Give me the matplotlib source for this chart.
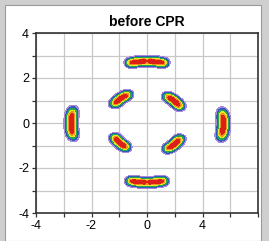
import numpy as np
import matplotlib
matplotlib.use("Agg")
import matplotlib.pyplot as plt
from matplotlib.patches import Rectangle

plt.rcParams['font.family'] = ['Liberation Sans', 'DejaVu Sans']

# cluster centres (data units)
clu_x = [0.0, 0.0, -2.73, 2.75, -0.95, 0.98, -0.98, 0.98]
clu_y = [2.74, -2.64, -0.02, -0.08, 1.08, 0.98, -0.88, -0.95]
# half length along the arc, half width across, split of the two lobes
clu_len = [0.84, 0.82, 0.82, 0.80, 0.54, 0.54, 0.52, 0.54]
clu_wid = [0.27, 0.27, 0.27, 0.27, 0.27, 0.27, 0.27, 0.27]
clu_split = [0.32, 0.32, 0.0, 0.0, 0.0, 0.0, 0.0, 0.0]

xticks = [-4, -2, 0, 2]
xlabels = ['-4', '-2', '0', '4']
yticks = [-4, -2, 0, 2, 4]
ylabels = ['-4', '-2', '0', '2', '4']

levels = [0.03, 0.09, 0.2, 0.38, 0.56, 0.76, 2.0]
colors = ['#a888d8', '#2f5cb8', '#28a84c', '#ece428', '#f29020', '#dc2018']

fig = plt.figure(figsize=(2.69, 2.41), dpi=100, facecolor='#cfcfcf')
fig.patches.append(Rectangle((5/269, 0), 256/269, 1 - 5/241, transform=fig.transFigure,
                             facecolor='white', edgecolor='#9a9a9a', lw=0.8, zorder=-1))
ax = fig.add_axes([36/269, 1 - 213/241, 222/269, 180/241])

g = np.linspace(-4, 4, 700)
X, Y = np.meshgrid(g, g)
R = np.hypot(X, Y)
T = np.arctan2(Y, X)
Z = np.zeros_like(X)
for cx, cy, L, W, s in zip(clu_x, clu_y, clu_len, clu_wid, clu_split):
    r0 = np.hypot(cx, cy)
    t0 = np.arctan2(cy, cx)
    dt = np.angle(np.exp(1j * (T - t0)))
    along = r0 * dt
    across = R - r0
    b = W / 1.87
    if s > 0:
        a = (L - s) / 1.37
        f = np.exp(-((along - s) / a) ** 4) + np.exp(-((along + s) / a) ** 4)
        f = np.minimum(f, 1.0) * (1 - 0.35 * np.exp(-(along / 0.05) ** 2))
    else:
        a = L / 1.37
        f = np.exp(-(along / a) ** 4)
    Z = np.maximum(Z, f * np.exp(-(across / b) ** 2))

ax.contourf(X, Y, Z, levels=levels, colors=colors, zorder=2)

ax.set_xlim(-4, 4)
ax.set_ylim(-4, 4)
ax.set_xticks(xticks, xlabels)
ax.set_yticks(yticks, ylabels)
ax.set_xticks(np.arange(-4, 5, 1), minor=True)
ax.set_yticks(np.arange(-4, 5, 1), minor=True)
ax.grid(True, which='both', color='#c8c8c8', lw=0.9, zorder=0)
ax.set_axisbelow(True)
ax.tick_params(which='both', direction='out', length=3, width=0.9, color='#333333',
               labelsize=9, pad=2)
for sp in ax.spines.values():
    sp.set_color('#333333')
    sp.set_linewidth(1.2)
ax.set_title('before CPR', fontsize=10, fontweight='bold', pad=5)

fig.savefig('out.png', dpi=100, facecolor=fig.get_facecolor())
